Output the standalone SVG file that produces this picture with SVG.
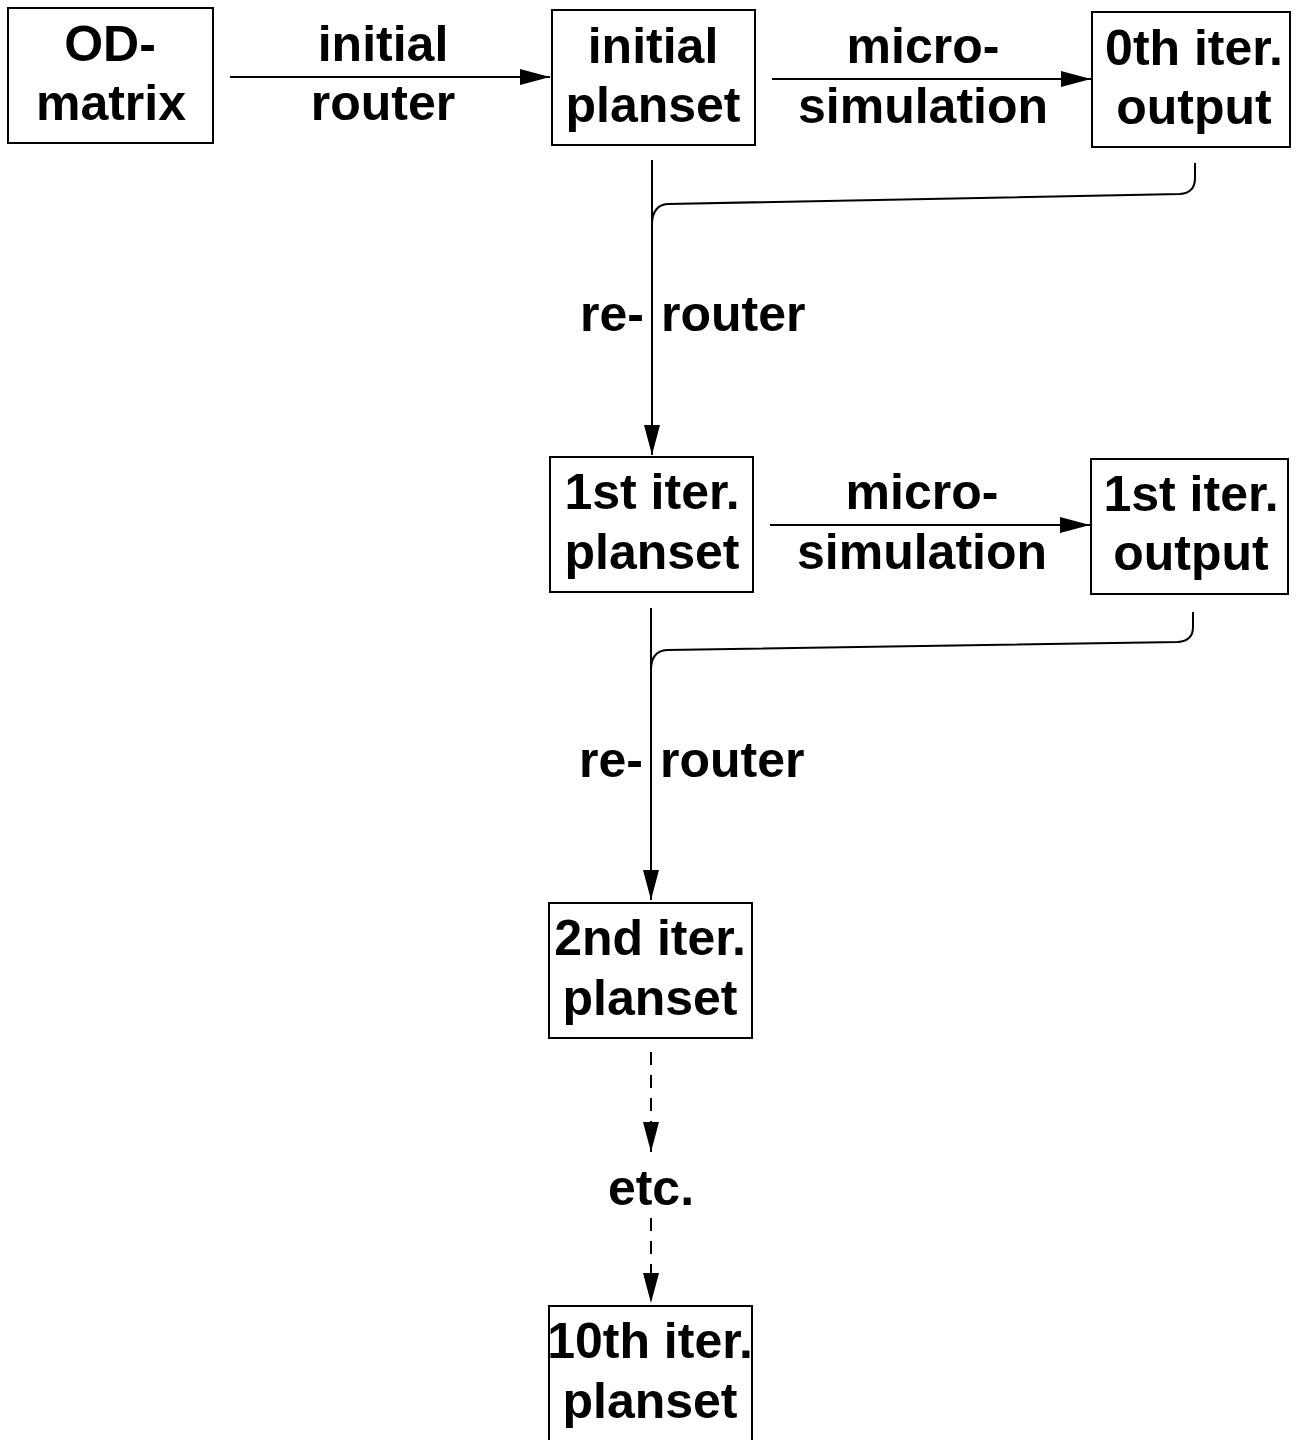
<svg xmlns="http://www.w3.org/2000/svg" width="1302" height="1440" viewBox="0 0 1302 1440">
  <style>
    .box { fill: #fff; stroke: #000; stroke-width: 2; }
    .t { font-family: "Liberation Sans", Arial, sans-serif; font-weight: bold; font-size: 50px; fill: #000; text-anchor: middle; }
    .tl { font-family: "Liberation Sans", Arial, sans-serif; font-weight: bold; font-size: 50px; fill: #000; }
    .ln { fill: none; stroke: #000; stroke-width: 2; }
    .dash { fill: none; stroke: #000; stroke-width: 2; stroke-dasharray: 13 10; }
  </style>
  <defs>
    <marker id="ah" viewBox="0 0 30 16" refX="30" refY="8" markerWidth="30" markerHeight="16" markerUnits="userSpaceOnUse" orient="auto">
      <path d="M0,0 L30,8 L0,16 Z" fill="#000"/>
    </marker>
  </defs>
  <rect width="1302" height="1440" fill="#fff"/>

  <!-- connectors -->
  <g id="connectors">
    <line class="ln" x1="230" y1="77" x2="550" y2="77" marker-end="url(#ah)"/>
    <line class="ln" x1="772" y1="79" x2="1091" y2="79" marker-end="url(#ah)"/>
    <line class="ln" x1="652" y1="160" x2="652" y2="455" marker-end="url(#ah)"/>
    <path class="ln" d="M1195,163 L1195,178 Q1195,193 1180,194 L668,204 Q652,205 652,225"/>

    <line class="ln" x1="770" y1="525" x2="1090" y2="525" marker-end="url(#ah)"/>
    <line class="ln" x1="651" y1="608" x2="651" y2="900" marker-end="url(#ah)"/>
    <path class="ln" d="M1193,612 L1193,627 Q1193,641 1178,642 L667,650 Q651,651 651,670"/>

    <line class="dash" x1="651" y1="1052" x2="651" y2="1152" marker-end="url(#ah)"/>
    <line class="dash" x1="651" y1="1218" x2="651" y2="1303" marker-end="url(#ah)"/>
  </g>

  <!-- connector labels -->
  <g id="labels">
    <text class="t" x="383" y="61">initial</text>
    <text class="t" x="383" y="120">router</text>
    <text class="t" x="923" y="63">micro-</text>
    <text class="t" x="923" y="123">simulation</text>
    <text class="tl" x="580" y="331">re-</text>
    <text class="tl" x="661" y="331">router</text>
    <text class="t" x="922" y="509">micro-</text>
    <text class="t" x="922" y="569">simulation</text>
    <text class="tl" x="579" y="777">re-</text>
    <text class="tl" x="660" y="777">router</text>
    <text class="t" x="651" y="1205">etc.</text>
  </g>

  <!-- nodes -->
  <g id="od-matrix">
    <rect class="box" x="8" y="8" width="205" height="135"/>
    <text class="t" x="110" y="61">OD-</text>
    <text class="t" x="111" y="120">matrix</text>
  </g>
  <g id="initial-planset">
    <rect class="box" x="552" y="10" width="203" height="135"/>
    <text class="t" x="653" y="63">initial</text>
    <text class="t" x="653" y="122">planset</text>
  </g>
  <g id="output-0">
    <rect class="box" x="1092" y="12" width="198" height="135"/>
    <text class="t" x="1194" y="65">0th iter.</text>
    <text class="t" x="1194" y="124">output</text>
  </g>
  <g id="planset-1">
    <rect class="box" x="550" y="457" width="203" height="135"/>
    <text class="t" x="652" y="509">1st iter.</text>
    <text class="t" x="652" y="569">planset</text>
  </g>
  <g id="output-1">
    <rect class="box" x="1091" y="459" width="197" height="135"/>
    <text class="t" x="1191" y="511">1st iter.</text>
    <text class="t" x="1191" y="570">output</text>
  </g>
  <g id="planset-2">
    <rect class="box" x="549" y="903" width="203" height="135"/>
    <text class="t" x="650" y="955">2nd iter.</text>
    <text class="t" x="650" y="1015">planset</text>
  </g>
  <g id="planset-10">
    <rect class="box" x="549" y="1306" width="203" height="140"/>
    <text class="t" x="650" y="1358">10th iter.</text>
    <text class="t" x="650" y="1418">planset</text>
  </g>
</svg>
